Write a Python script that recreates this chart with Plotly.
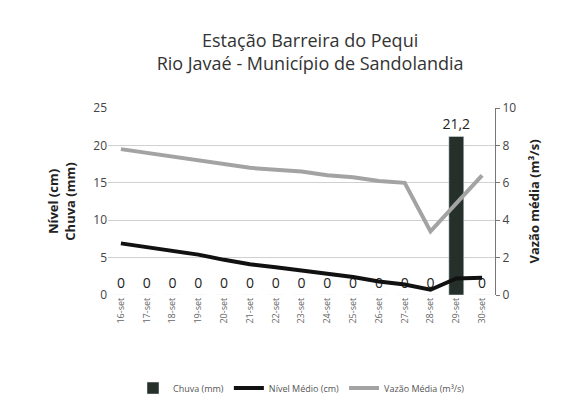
import plotly.graph_objects as go

dias = ['16-set', '17-set', '18-set', '19-set', '20-set', '21-set', '22-set', '23-set',
        '24-set', '25-set', '26-set', '27-set', '28-set', '29-set', '30-set']
chuva = [0, 0, 0, 0, 0, 0, 0, 0, 0, 0, 0, 0, 0, 21.2, 0]
nivel = [6.9, 6.4, 6.0, 5.4, 4.7, 4.1, 3.7, 3.3, 2.9, 2.4, 1.8, 1.4, 0.7, 2.2, 2.3]
vazao = [7.8, 7.6, 7.4, 7.2, 7.0, 6.8, 6.7, 6.6, 6.4, 6.3, 6.1, 6.0, 3.4, 4.9, 6.4]

fonte = "Open Sans"

fig = go.Figure()
fig.add_trace(go.Bar(
    x=dias, y=chuva, name='Chuva (mm)',
    marker=dict(color='#25302b'), width=0.58,
    text=[f'{v:g}'.replace('.', ',') for v in chuva],
    textposition='outside', cliponaxis=False, constraintext='none',
    textfont=dict(size=14, color='#222', family=fonte),
))
fig.add_trace(go.Scatter(
    x=dias, y=nivel, name='Nível Médio (cm)', mode='lines',
    line=dict(color='#111', width=4),
))
fig.add_trace(go.Scatter(
    x=dias, y=vazao, name='Vazão Média (m³/s)', mode='lines', yaxis='y2',
    line=dict(color='#a3a3a3', width=4),
))

fig.update_layout(
    width=581, height=406,
    paper_bgcolor='white', plot_bgcolor='white',
    font=dict(family=fonte, color='#333'),
    margin=dict(l=100, r=94, t=100, b=109),
    title=dict(text='Estação Barreira do Pequi<br>Rio Javaé - Município de Sandolandia',
               x=0.52, xanchor='center', y=0.905, yanchor='top',
               font=dict(size=18, color='#333')),
    xaxis=dict(tickangle=-90, tickfont=dict(size=9, color='#666'),
               showgrid=False, showline=False, ticks=''),
    yaxis=dict(range=[0, 25], dtick=5, gridcolor='#d0d0d0', zeroline=False,
               tickfont=dict(size=12, color='#444'),
               title=dict(text='<b>Nível (cm)<br>Chuva (mm)</b>', font=dict(size=13, color='#222'),
                          standoff=14)),
    yaxis2=dict(range=[0, 10], dtick=2, overlaying='y', side='right', showgrid=False,
                zeroline=False, showline=True, linecolor='#777', ticks='outside',
                ticklen=4, tickcolor='#777',
                tickfont=dict(size=12, color='#444'),
                title=dict(text='<b>Vazão média (m³/s)</b>', font=dict(size=13, color='#222'),
                           standoff=14)),
    legend=dict(orientation='h', x=0.5, xanchor='center', y=-0.42, yanchor='top',
                font=dict(size=9, color='#555')),
    showlegend=True,
)

fig.write_html("out.html")
